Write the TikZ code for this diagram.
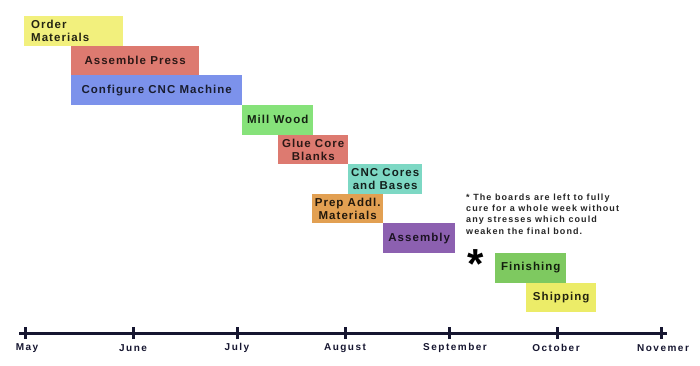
\documentclass[tikz,border=0pt]{standalone}
\usepackage{fontspec}
\setmainfont{Liberation Sans}[LetterSpace=9]
\newfontfamily\notefont{Liberation Sans}[LetterSpace=12]
\newfontfamily\axisfont{Liberation Sans}[LetterSpace=15]
\definecolor{cyellow}{RGB}{242,240,125}
\definecolor{cred}{RGB}{221,122,112}
\definecolor{cblue}{RGB}{124,146,235}
\definecolor{cgreen}{RGB}{134,226,122}
\definecolor{cteal}{RGB}{125,216,196}
\definecolor{corange}{RGB}{226,160,82}
\definecolor{cpurple}{RGB}{140,96,176}
\definecolor{cgreenb}{RGB}{126,201,96}
\definecolor{cyellowb}{RGB}{236,236,104}
\definecolor{caxis}{RGB}{22,22,48}
\begin{document}
\begin{tikzpicture}[x=1pt,y=-1pt,
  bar/.style={rectangle, inner sep=0pt, anchor=north west, minimum height=29.6pt,
    align=center, font=\bfseries\fontsize{11.5}{13}\selectfont},
  axislabel/.style={font=\axisfont\bfseries\fontsize{10}{12}\selectfont, text=caxis, inner sep=0pt},
  tick/.style={draw=caxis, line width=3pt}]
\useasboundingbox (0,0) rectangle (700,365);
% bars
\node[bar, fill=cyellow, text=cyellow!15!black, minimum width=99pt, text width=85pt, inner xsep=7pt, align=left] (order) at (24,16) {Order\\Materials};
\node[bar, fill=cred, text=cred!20!black, minimum width=128pt] (press) at (71,45.6) {Assemble Press};
\node[bar, fill=cblue, text=cblue!20!black, minimum width=171pt] (cnc) at (71,75.2) {Configure CNC Machine};
\node[bar, fill=cgreen, text=cgreen!15!black, minimum width=71pt] (mill) at (242,104.8) {Mill Wood};
\node[bar, fill=cred, text=cred!20!black, minimum width=70pt] (glue) at (278,134.4) {Glue Core\\Blanks};
\node[bar, fill=cteal, text=cteal!15!black, minimum width=74pt] (cores) at (348,164) {CNC Cores\\and Bases};
\node[bar, fill=corange, text=corange!15!black, minimum width=71pt] (prep) at (312,193.6) {Prep Addl.\\Materials};
\node[bar, fill=cpurple, text=cpurple!20!black, minimum width=72pt] (assembly) at (383,223.2) {Assembly};
\node[bar, fill=cgreenb, text=cgreenb!15!black, minimum width=71pt] (finish) at (495,252.8) {Finishing};
\node[bar, fill=cyellowb, text=cyellowb!15!black, minimum width=70pt] (ship) at (526,282.4) {Shipping};
% note
\node[anchor=north west, inner sep=0pt, align=left, text=black!85,
  font=\notefont\bfseries\fontsize{9}{11.3}\selectfont] (note) at (466,193.5)
  {* The boards are left to fully\\cure for a whole week without\\any stresses which could\\weaken the final bond.};
\node[inner sep=0pt, font=\bfseries\fontsize{42}{42}\selectfont] (star) at (476,264) {*};
% axis
\coordinate (a0) at (19,333);
\coordinate (a1) at (667,333);
\draw[caxis, line width=3pt] (a0) -- (a1);
\foreach \n/\x in {may/25, jun/133, jul/237, aug/345, sep/449, oct/557, nov/661}{
  \coordinate (t\n) at (\x,333);
  \draw[tick] ([yshift=-6pt]t\n) -- ([yshift=6pt]t\n);
}
\node[axislabel] (lmay) at (27,348) {May};
\node[axislabel] (ljun) at (133,348) {June};
\node[axislabel] (ljul) at (237,348) {July};
\node[axislabel] (laug) at (345,348) {August};
\node[axislabel] (lsep) at (455,348) {September};
\node[axislabel] (loct) at (556,348) {October};
\node[axislabel] (lnov) at (663,348) {Novemer};
\end{tikzpicture}
\end{document}
